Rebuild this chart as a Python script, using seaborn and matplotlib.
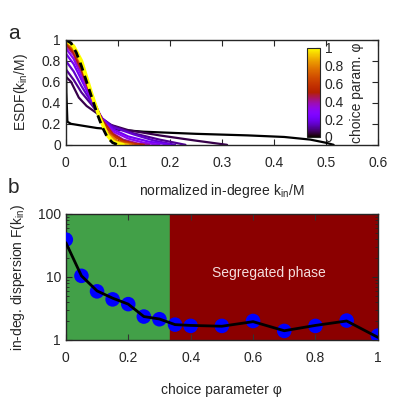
import numpy as np
import pandas as pd
import matplotlib
matplotlib.use("Agg")
import matplotlib.pyplot as plt
import seaborn as sns


# =====================================
# DATA  (panel a: ESDF curves per phi)
# =====================================

phi_values = [0.0, 0.05, 0.1, 0.15, 0.2, 0.3, 0.4, 0.5, 0.6, 0.7, 0.8, 0.9, 1.0]

esdf_x = [
    [0.0, 0.001, 0.003, 0.01, 0.06, 0.15, 0.25, 0.35, 0.42, 0.47, 0.5, 0.515],
    [0.0, 0.01, 0.025, 0.04, 0.06, 0.08, 0.12, 0.18, 0.25, 0.31],
    [0.0, 0.015, 0.03, 0.05, 0.07, 0.09, 0.13, 0.18, 0.23],
    [0.0, 0.015, 0.03, 0.05, 0.07, 0.09, 0.13, 0.17, 0.21],
    [0.0, 0.015, 0.03, 0.05, 0.07, 0.09, 0.12, 0.16, 0.2],
    [0.0, 0.015, 0.03, 0.05, 0.07, 0.09, 0.12, 0.15, 0.18],
    [0.0, 0.015, 0.03, 0.05, 0.07, 0.09, 0.11, 0.14, 0.16],
    [0.0, 0.015, 0.03, 0.05, 0.07, 0.09, 0.11, 0.13, 0.15],
    [0.0, 0.015, 0.03, 0.05, 0.07, 0.09, 0.11, 0.13, 0.14],
    [0.0, 0.015, 0.03, 0.05, 0.07, 0.08, 0.1, 0.12, 0.13],
    [0.0, 0.015, 0.03, 0.05, 0.07, 0.08, 0.1, 0.11, 0.125],
    [0.0, 0.015, 0.03, 0.05, 0.065, 0.08, 0.095, 0.11, 0.12],
    [0.0, 0.015, 0.03, 0.05, 0.065, 0.08, 0.09, 0.1, 0.11],
]

esdf_y = [
    [1.0, 0.5, 0.22, 0.2, 0.16, 0.125, 0.105, 0.09, 0.075, 0.05, 0.02, 0.0],
    [0.65, 0.6, 0.45, 0.37, 0.3, 0.2, 0.14, 0.09, 0.04, 0.0],
    [0.72, 0.62, 0.5, 0.38, 0.25, 0.18, 0.11, 0.05, 0.0],
    [0.8, 0.7, 0.56, 0.4, 0.25, 0.17, 0.1, 0.04, 0.0],
    [0.87, 0.77, 0.62, 0.42, 0.25, 0.15, 0.08, 0.03, 0.0],
    [0.92, 0.82, 0.66, 0.43, 0.24, 0.13, 0.06, 0.02, 0.0],
    [0.95, 0.86, 0.7, 0.45, 0.24, 0.11, 0.05, 0.01, 0.0],
    [0.97, 0.88, 0.72, 0.46, 0.23, 0.1, 0.04, 0.01, 0.0],
    [0.98, 0.9, 0.74, 0.46, 0.22, 0.09, 0.03, 0.01, 0.0],
    [0.99, 0.91, 0.76, 0.47, 0.21, 0.12, 0.03, 0.01, 0.0],
    [1.0, 0.92, 0.77, 0.47, 0.2, 0.11, 0.03, 0.01, 0.0],
    [1.0, 0.93, 0.78, 0.47, 0.26, 0.1, 0.03, 0.01, 0.0],
    [1.0, 0.94, 0.8, 0.48, 0.26, 0.09, 0.03, 0.01, 0.0],
]

# reference (dashed) curve
ref_x = [0.0, 0.01, 0.02, 0.03, 0.04, 0.05, 0.06, 0.07, 0.08, 0.09, 0.1]
ref_y = [1.0, 0.97, 0.88, 0.75, 0.6, 0.45, 0.3, 0.17, 0.07, 0.02, 0.0]


# =====================================
# DATA  (panel b: dispersion vs phi)
# =====================================

phi_b = [0.0, 0.05, 0.1, 0.15, 0.2, 0.25, 0.3, 0.35, 0.4, 0.5, 0.6, 0.7, 0.8, 0.9, 1.0]
dispersion = [39, 10.4, 5.9, 4.4, 3.7, 2.35, 2.13, 1.75, 1.67, 1.67, 2.0, 1.39, 1.67, 2.03, 1.17]
dispersion_line = [35, 10.4, 6.0, 4.6, 3.7, 2.35, 2.15, 1.75, 1.7, 1.65, 1.95, 1.4, 1.7, 2.0, 1.1]

phase_boundary = 0.333


# =====================================
# STYLE
# =====================================

sns.set_style("ticks")
plt.rcParams["font.family"] = ["Liberation Sans", "DejaVu Sans"]
plt.rcParams["mathtext.fontset"] = "custom"
plt.rcParams["mathtext.rm"] = "Liberation Sans"
plt.rcParams["font.size"] = 10
plt.rcParams["xtick.labelsize"] = 10
plt.rcParams["ytick.labelsize"] = 10
plt.rcParams["xtick.direction"] = "in"
plt.rcParams["ytick.direction"] = "in"
plt.rcParams["xtick.top"] = True
plt.rcParams["ytick.right"] = True
plt.rcParams["xtick.major.size"] = 4
plt.rcParams["ytick.major.size"] = 4

fig = plt.figure(figsize=(3.99, 3.99), dpi=100)

ax_a = fig.add_axes([0.165, 0.637, 0.782, 0.263])
ax_b = fig.add_axes([0.165, 0.148, 0.782, 0.316])


# =====================================
# PANEL A
# =====================================

rows = []
for phi, xs, ys in zip(phi_values, esdf_x, esdf_y):
    for x, y in zip(xs, ys):
        rows.append({"phi": phi, "x": x, "y": y})
df_a = pd.DataFrame(rows)

sns.lineplot(
    data=df_a,
    x="x",
    y="y",
    hue="phi",
    palette="gnuplot",
    hue_norm=(0, 1),
    sort=False,
    estimator=None,
    linewidth=1.6,
    legend=False,
    ax=ax_a
)

# phi = 1 is drawn thicker on top
ax_a.lines[-1].set_linewidth(2.6)

ax_a.plot(
    ref_x,
    ref_y,
    color="black",
    linestyle=(0, (3, 2)),
    linewidth=2.0
)

ax_a.set_xlim(0, 0.6)
ax_a.set_ylim(0, 1)
ax_a.set_xticks([0, 0.1, 0.2, 0.3, 0.4, 0.5, 0.6])
ax_a.set_xticklabels(["0", "0.1", "0.2", "0.3", "0.4", "0.5", "0.6"])
ax_a.set_yticks([0, 0.2, 0.4, 0.6, 0.8, 1])
ax_a.set_yticklabels(["0", "0.2", "0.4", "0.6", "0.8", "1"])
ax_a.tick_params(axis="x", pad=8)
ax_a.set_xlabel(r"normalized in-degree k$_\mathrm{in}$/M", labelpad=9)
ax_a.set_ylabel(r"ESDF(k$_\mathrm{in}$/M)", labelpad=8)

# colorbar
cax = fig.add_axes([0.769, 0.657, 0.033, 0.223])
sm = plt.cm.ScalarMappable(
    cmap="gnuplot",
    norm=plt.Normalize(0, 1)
)
cb = fig.colorbar(sm, cax=cax)
cb.set_ticks([0, 0.2, 0.4, 0.6, 0.8, 1])
cb.set_ticklabels(["0", "0.2", "0.4", "0.6", "0.8", "1"])
cb.ax.tick_params(direction="in", length=3, labelsize=10)
cb.set_label("choice param. φ", fontsize=10, labelpad=4)


# =====================================
# PANEL B
# =====================================

ax_b.axvspan(0, phase_boundary, color="#42a048", zorder=0)
ax_b.axvspan(phase_boundary, 1, color="#8b0000", zorder=0)

sns.scatterplot(
    x=phi_b,
    y=dispersion,
    color="#0000ff",
    s=110,
    edgecolor="none",
    zorder=3,
    ax=ax_b
)

sns.lineplot(
    x=phi_b,
    y=dispersion_line,
    color="black",
    linewidth=2.0,
    sort=False,
    estimator=None,
    zorder=4,
    ax=ax_b
)

ax_b.set_yscale("log")
ax_b.set_xlim(0, 1)
ax_b.set_ylim(1, 100)
ax_b.set_xticks([0, 0.2, 0.4, 0.6, 0.8, 1])
ax_b.set_xticklabels(["0", "0.2", "0.4", "0.6", "0.8", "1"])
ax_b.set_yticks([1, 10, 100])
ax_b.set_yticklabels(["1", "10", "100"])
ax_b.tick_params(axis="x", pad=8, color="#333333")
ax_b.set_xlabel("choice parameter φ", labelpad=13)
ax_b.set_ylabel(r"in-deg. dispersion F(k$_\mathrm{in}$)", labelpad=8)

ax_b.text(
    0.65, 11.5,
    "Segregated phase",
    color="#f4dede",
    fontsize=10,
    ha="center",
    va="center"
)

for ax in (ax_a, ax_b):
    for spine in ax.spines.values():
        spine.set_linewidth(1.0)
        spine.set_visible(True)

fig.text(0.02, 0.915, "a", fontsize=15, va="center")
fig.text(0.02, 0.53, "b", fontsize=15, va="center")

plt.savefig("out.png", dpi=100)
plt.close()
